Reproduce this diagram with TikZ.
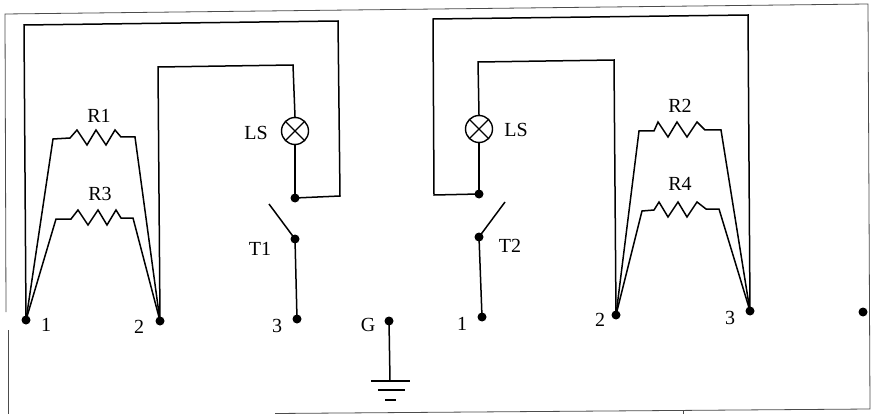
\documentclass[tikz,border=0pt]{standalone}
\usepackage{fontspec}
\setmainfont{Liberation Serif}
\begin{document}
\begin{tikzpicture}[x=1pt,y=-1pt,
  wire/.style={line width=1.5pt,line join=miter},
  framel/.style={line width=0.8pt,black!70},
  term/.style={circle,fill=black,inner sep=0pt,minimum size=9pt},
  lamp/.style={circle,draw,line width=1.4pt,inner sep=0pt,minimum size=27pt,
    path picture={\draw[line width=1.4pt] (path picture bounding box.north west)--(path picture bounding box.south east)
      (path picture bounding box.north east)--(path picture bounding box.south west);}},
  lab/.style={font=\fontsize{20}{20}\selectfont,inner sep=0pt}]
\useasboundingbox (0,0) rectangle (872,414);
\fill[white] (0,0) rectangle (872,414);
% frame
\draw[framel] (6,312)--(5,14)--(868,4)--(870,409)--(275,413.5);
\draw[framel] (8,330)--(8,414);
\draw[framel] (683,410)--(683,414);
% terminals
\node[term] (a1) at (26,320) {};
\node[term] (a2) at (160,321) {};
\node[term] (a3) at (297,319) {};
\node[term] (g) at (389,321) {};
\node[term] (b1) at (482,317) {};
\node[term] (b2) at (616,315) {};
\node[term] (b3) at (750,311) {};
\node[term] (far) at (863,312) {};
\node[term] (j1) at (295,198) {};
\node[term] (j2) at (479,194) {};
\node[term] (t1) at (295,239) {};
\node[term] (t2) at (479,237) {};
\node[lamp] (l1) at (295,131) {};
\node[lamp] (l2) at (479,129) {};
\coordinate (s1) at (269,204);
\coordinate (s2) at (505,202);
\coordinate (gnd) at (390,381);
% labels
\node[lab] at (99,116) {R1};
\node[lab] at (100,194) {R3};
\node[lab] at (680,106) {R2};
\node[lab] at (680,184) {R4};
\node[lab] at (256,133) {LS};
\node[lab] at (516,130) {LS};
\node[lab] at (260,249) {T1};
\node[lab] at (510,246) {T2};
\node[lab] at (46,325) {1};
\node[lab] at (139,327) {2};
\node[lab] at (277,326) {3};
\node[lab] at (368,325) {G};
\node[lab] at (462,324) {1};
\node[lab] at (600,320) {2};
\node[lab] at (730,318) {3};
% left wiring
\draw[wire] (a1.center)--(24,25)--(338,21)--(340,196)--(j1.center);
\draw[wire] (a2.center)--(158,67)--(293,65)--(l1.north);
\draw[wire] (l1.south)--(j1.center);
\draw[wire] (s1)--(t1.center)--(a3.center);
\draw[wire] (a1.center)--(53,139)--(70,138)--(77,130)--(87,145)--(96,130)--(106,145)--(115,130)--(121,137)--(135,137)--(a2.center);
\draw[wire] (a1.center)--(56,219)--(71,219)--(78,210)--(88,225)--(98,210)--(107,225)--(116,210)--(121,218)--(133,218)--(a2.center);
% right wiring
\draw[wire] (j2.center)--(434,195)--(433,19)--(748,15)--(b3.center);
\draw[wire] (b2.center)--(614,60)--(478,62)--(l2.north);
\draw[wire] (l2.south)--(j2.center);
\draw[wire] (s2)--(t2.center)--(b1.center);
\draw[wire] (b2.center)--(639,131)--(654,131)--(658,122)--(668,137)--(677,122)--(687,137)--(697,122)--(705,130)--(721,130)--(b3.center);
\draw[wire] (b2.center)--(642,211)--(654,210)--(659,202)--(668,217)--(678,202)--(687,217)--(697,202)--(706,209)--(719,209)--(b3.center);
% ground
\draw[wire] (g.center)--(gnd);
\draw[wire] (371,381)--(410,381) (378,390)--(405,390) (385,400)--(396,400);
\end{tikzpicture}
\end{document}
